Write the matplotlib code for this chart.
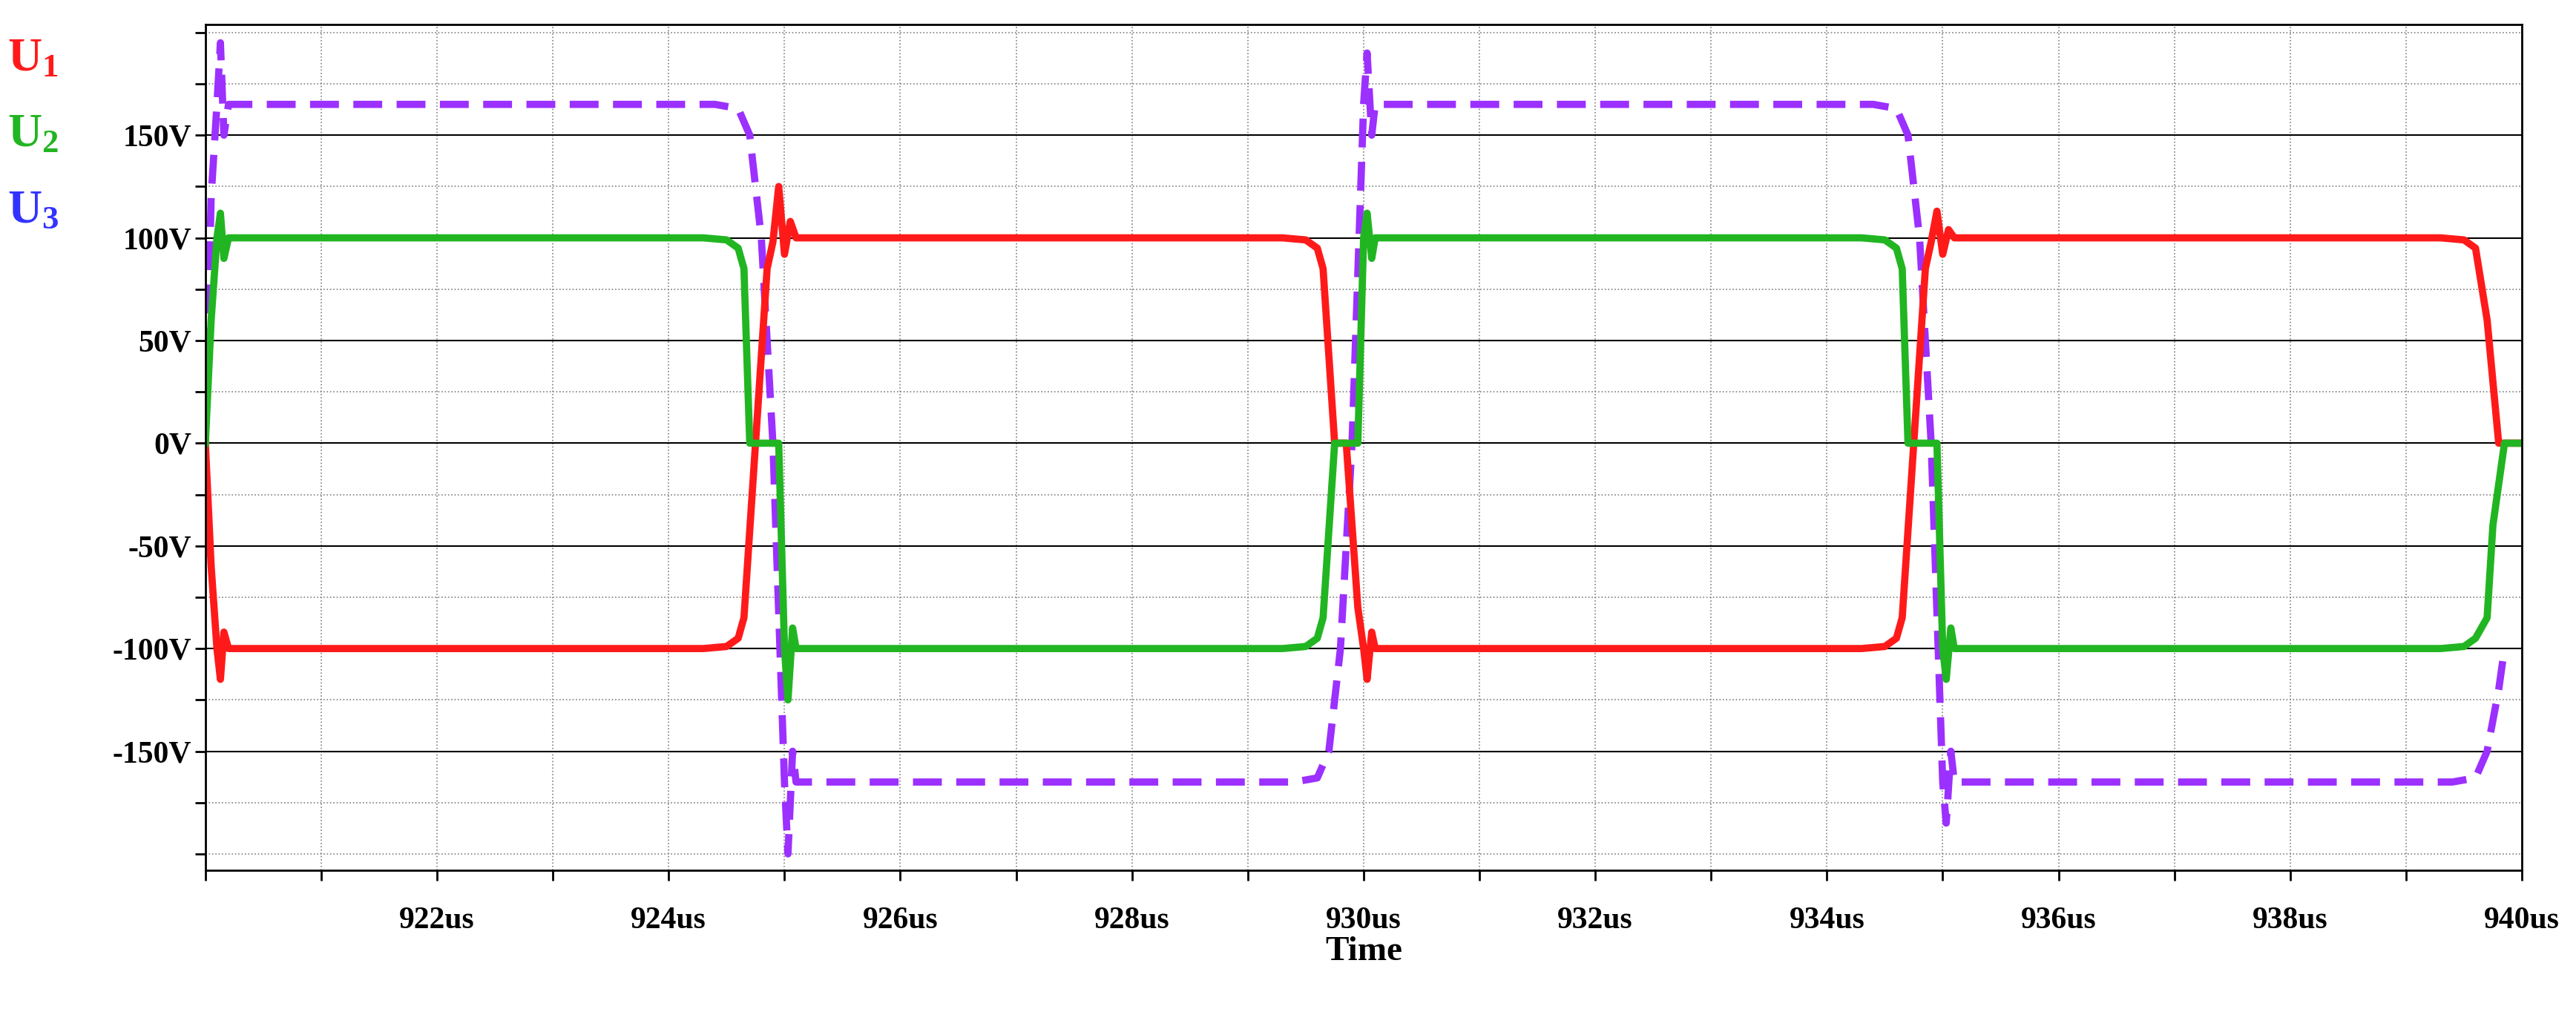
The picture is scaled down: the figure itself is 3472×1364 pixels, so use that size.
import numpy as np
import matplotlib.pyplot as plt
from matplotlib.ticker import MultipleLocator

plt.rcParams['mathtext.fontset'] = 'custom'
plt.rcParams['mathtext.bf'] = 'Liberation Serif:bold'
plt.rcParams['mathtext.rm'] = 'Liberation Serif'

# time in us, voltages in V
u1_t = [920.0, 920.05, 920.1, 920.13, 920.16, 920.2, 920.3, 924.3, 924.5, 924.6, 924.65, 924.75,
        924.85, 924.9, 924.95, 925.0, 925.05, 925.1, 925.2, 929.3, 929.5, 929.6, 929.65,
        929.75, 929.85, 929.95, 930.0, 930.03, 930.07, 930.1, 930.2, 934.3, 934.5, 934.6,
        934.65, 934.75, 934.85, 934.9, 934.95, 935.0, 935.05, 935.1, 935.2, 939.3, 939.5,
        939.6, 939.7, 939.8, 939.9, 940.0]
u1_v = [0, -60, -100, -115, -92, -100, -100, -100, -99, -95, -85, 0,
        85, 98, 125, 92, 108, 100, 100, 100, 99, 95, 85,
        0, 0, -80, -100, -115, -92, -100, -100, -100, -99, -95,
        -85, 0, 85, 98, 113, 92, 104, 100, 100, 100, 99,
        95, 60, 0, 0, 0]

u2_t = [920.0, 920.05, 920.1, 920.13, 920.16, 920.2, 920.3, 924.3, 924.5, 924.6, 924.65, 924.7,
        924.9, 924.95, 925.0, 925.03, 925.07, 925.1, 925.2, 929.3, 929.5, 929.6, 929.65,
        929.75, 929.9, 929.95, 930.0, 930.03, 930.07, 930.1, 930.2, 934.3, 934.5, 934.6,
        934.65, 934.7, 934.9, 934.95, 935.0, 935.03, 935.07, 935.1, 935.2, 939.3, 939.5,
        939.6, 939.7, 939.75, 939.85, 940.0]
u2_v = [0, 60, 100, 112, 90, 100, 100, 100, 99, 95, 85, 0,
        0, 0, -100, -125, -90, -100, -100, -100, -99, -95, -85,
        0, 0, 0, 100, 112, 90, 100, 100, 100, 99, 95,
        85, 0, 0, 0, -100, -115, -90, -100, -100, -100, -99,
        -95, -85, -40, 0, 0]

u3_t = [920.0, 920.05, 920.1, 920.13, 920.16, 920.2, 920.3, 924.4, 924.6, 924.7, 924.8,
        924.9, 925.0, 925.03, 925.07, 925.1, 925.2, 929.4, 929.6, 929.7, 929.8,
        929.9, 930.0, 930.03, 930.07, 930.1, 930.2, 934.4, 934.6, 934.7, 934.8,
        934.9, 935.0, 935.03, 935.07, 935.1, 935.2, 939.4, 939.6, 939.7, 939.8, 939.85]
u3_v = [0, 120, 165, 195, 150, 165, 165, 165, 163, 150, 100,
        0, -165, -200, -150, -165, -165, -165, -163, -150, -100,
        0, 165, 190, 150, 165, 165, 165, 163, 150, 100,
        0, -165, -185, -150, -165, -165, -165, -163, -150, -120, -100]

serif = 'Liberation Serif'
fig = plt.figure(figsize=(34.73, 13.64), dpi=100)
ax = fig.add_axes([0.0797, 0.14, 0.899, 0.836])

ax.plot(u3_t, u3_v, color='#9b30ff', lw=7, ls=(0, (4, 2)))
ax.plot(u1_t, u1_v, color='#ff1a1a', lw=7)
ax.plot(u2_t, u2_v, color='#22b522', lw=7)

ax.set_xlim(920, 940)
ax.set_ylim(-208, 204)
ax.xaxis.set_major_locator(MultipleLocator(2))
ax.xaxis.set_minor_locator(MultipleLocator(1))
ax.yaxis.set_major_locator(MultipleLocator(50))
ax.yaxis.set_minor_locator(MultipleLocator(25))
ax.grid(which='major', axis='y', color='black', lw=1.5)
ax.grid(which='minor', axis='y', color='gray', lw=1.2, ls=':')
ax.grid(which='both', axis='x', color='gray', lw=1.2, ls=':')

xt = np.arange(922, 941, 2)
ax.set_xticks(xt)
ax.set_xticklabels([f'{v}us' for v in xt], fontfamily=serif, fontweight='bold', fontsize=30)
yt = np.arange(-150, 151, 50)
ax.set_yticks(yt)
ax.set_yticklabels([f'{v}V' for v in yt], fontfamily=serif, fontweight='bold', fontsize=30)
ax.tick_params(which='both', length=10, width=2)
ax.tick_params(axis='x', pad=25)
for s in ax.spines.values():
    s.set_linewidth(2)
ax.set_xlabel('Time', fontfamily=serif, fontweight='bold', fontsize=34, labelpad=2)

for y, lab, c in [(0.93, '$\\mathbf{U_1}$', '#ff1a1a'), (0.855, '$\\mathbf{U_2}$', '#22b522'),
                  (0.78, '$\\mathbf{U_3}$', '#3333ff')]:
    fig.text(0.003, y, lab, color=c, fontsize=46)

fig.savefig('out.png', dpi=100)
